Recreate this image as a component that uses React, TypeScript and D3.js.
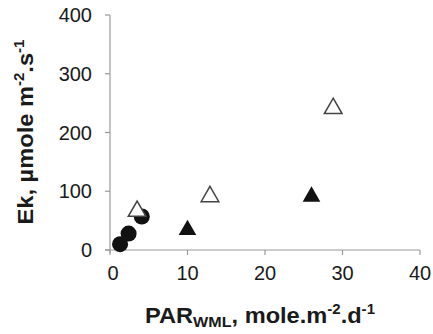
import * as d3 from 'd3';

// data
const filledCircles = [
  { x: 1.3, y: 10 },
  { x: 2.4, y: 28 },
  { x: 4.1, y: 57 },
];
const openTriangles = [
  { x: 3.5, y: 66 },
  { x: 12.9, y: 91 },
  { x: 28.8, y: 241 },
];
const filledTriangles = [
  { x: 10, y: 34 },
  { x: 26, y: 91 },
];
const xTicks = [0, 10, 20, 30, 40];
const yTicks = [0, 100, 200, 300, 400];

const W = 433;
const H = 334;

export default function App() {
  const x = d3.scaleLinear().domain([0, 40]).range([110, 420]);
  const y = d3.scaleLinear().domain([0, 400]).range([250, 15]);
  const font = 'Liberation Sans, Arial, sans-serif';
  const axisColor = '#9a9a9a';

  const tri = d3.symbol().type(d3.symbolTriangle).size(135);

  return (
    <div style={{ position: 'absolute', left: 0, top: 0 }}>
      <svg width={W} height={H} style={{ display: 'block', background: '#fff' }}>
        {/* axes */}
        <line x1={x(0)} x2={x(0)} y1={y(400)} y2={y(0) + 3} stroke={axisColor} strokeWidth={1.2} />
        <line x1={x(0) - 5} x2={x(40)} y1={y(0)} y2={y(0)} stroke={axisColor} strokeWidth={1.2} />
        {yTicks.map((t) => (
          <g key={'y' + t}>
            <line x1={x(0) - 5} x2={x(0)} y1={y(t)} y2={y(t)} stroke={axisColor} strokeWidth={1.2} />
            <text
              x={92}
              y={y(t)}
              dy="0.36em"
              textAnchor="end"
              fontFamily={font}
              fontSize={20}
              fill="#1a1a1a"
            >
              {t}
            </text>
          </g>
        ))}
        {xTicks.map((t) => (
          <g key={'x' + t}>
            <line x1={x(t)} x2={x(t)} y1={y(0)} y2={y(0) + 5} stroke={axisColor} strokeWidth={1.2} />
            <text
              x={x(t) + (t === 0 ? 3 : 0)}
              y={280}
              textAnchor="middle"
              fontFamily={font}
              fontSize={20}
              fill="#1a1a1a"
            >
              {t}
            </text>
          </g>
        ))}

        {/* markers */}
        {filledCircles.map((d, i) => (
          <circle key={'c' + i} cx={x(d.x)} cy={y(d.y)} r={8} fill="#111" />
        ))}
        {filledTriangles.map((d, i) => (
          <path
            key={'ft' + i}
            d={tri() as string}
            transform={`translate(${x(d.x)},${y(d.y)})`}
            fill="#111"
          />
        ))}
        {openTriangles.map((d, i) => (
          <path
            key={'ot' + i}
            d={tri() as string}
            transform={`translate(${x(d.x)},${y(d.y)})`}
            fill="#fff"
            stroke="#444"
            strokeWidth={1.5}
          />
        ))}

        {/* axis titles */}
        <text
          transform="translate(33,132) rotate(-90)"
          textAnchor="middle"
          fontFamily={font}
          fontWeight="bold"
          fontSize={22}
          fill="#1a1a1a"
          textLength={185}
          lengthAdjust="spacingAndGlyphs"
        >
          Ek, µmole m<tspan fontSize={14} dy={-9}>-2</tspan>
          <tspan dy={9}>.s</tspan>
          <tspan fontSize={14} dy={-9}>-1</tspan>
        </text>
        <text
          x={260}
          y={323}
          textAnchor="middle"
          fontFamily={font}
          fontWeight="bold"
          fontSize={22}
          fill="#1a1a1a"
          textLength={230}
          lengthAdjust="spacingAndGlyphs"
        >
          PAR<tspan fontSize={15} dy={4}>WML</tspan>
          <tspan dy={-4}>, mole.m</tspan>
          <tspan fontSize={14} dy={-9}>-2</tspan>
          <tspan dy={9}>.d</tspan>
          <tspan fontSize={14} dy={-9}>-1</tspan>
        </text>
      </svg>
    </div>
  );
}
